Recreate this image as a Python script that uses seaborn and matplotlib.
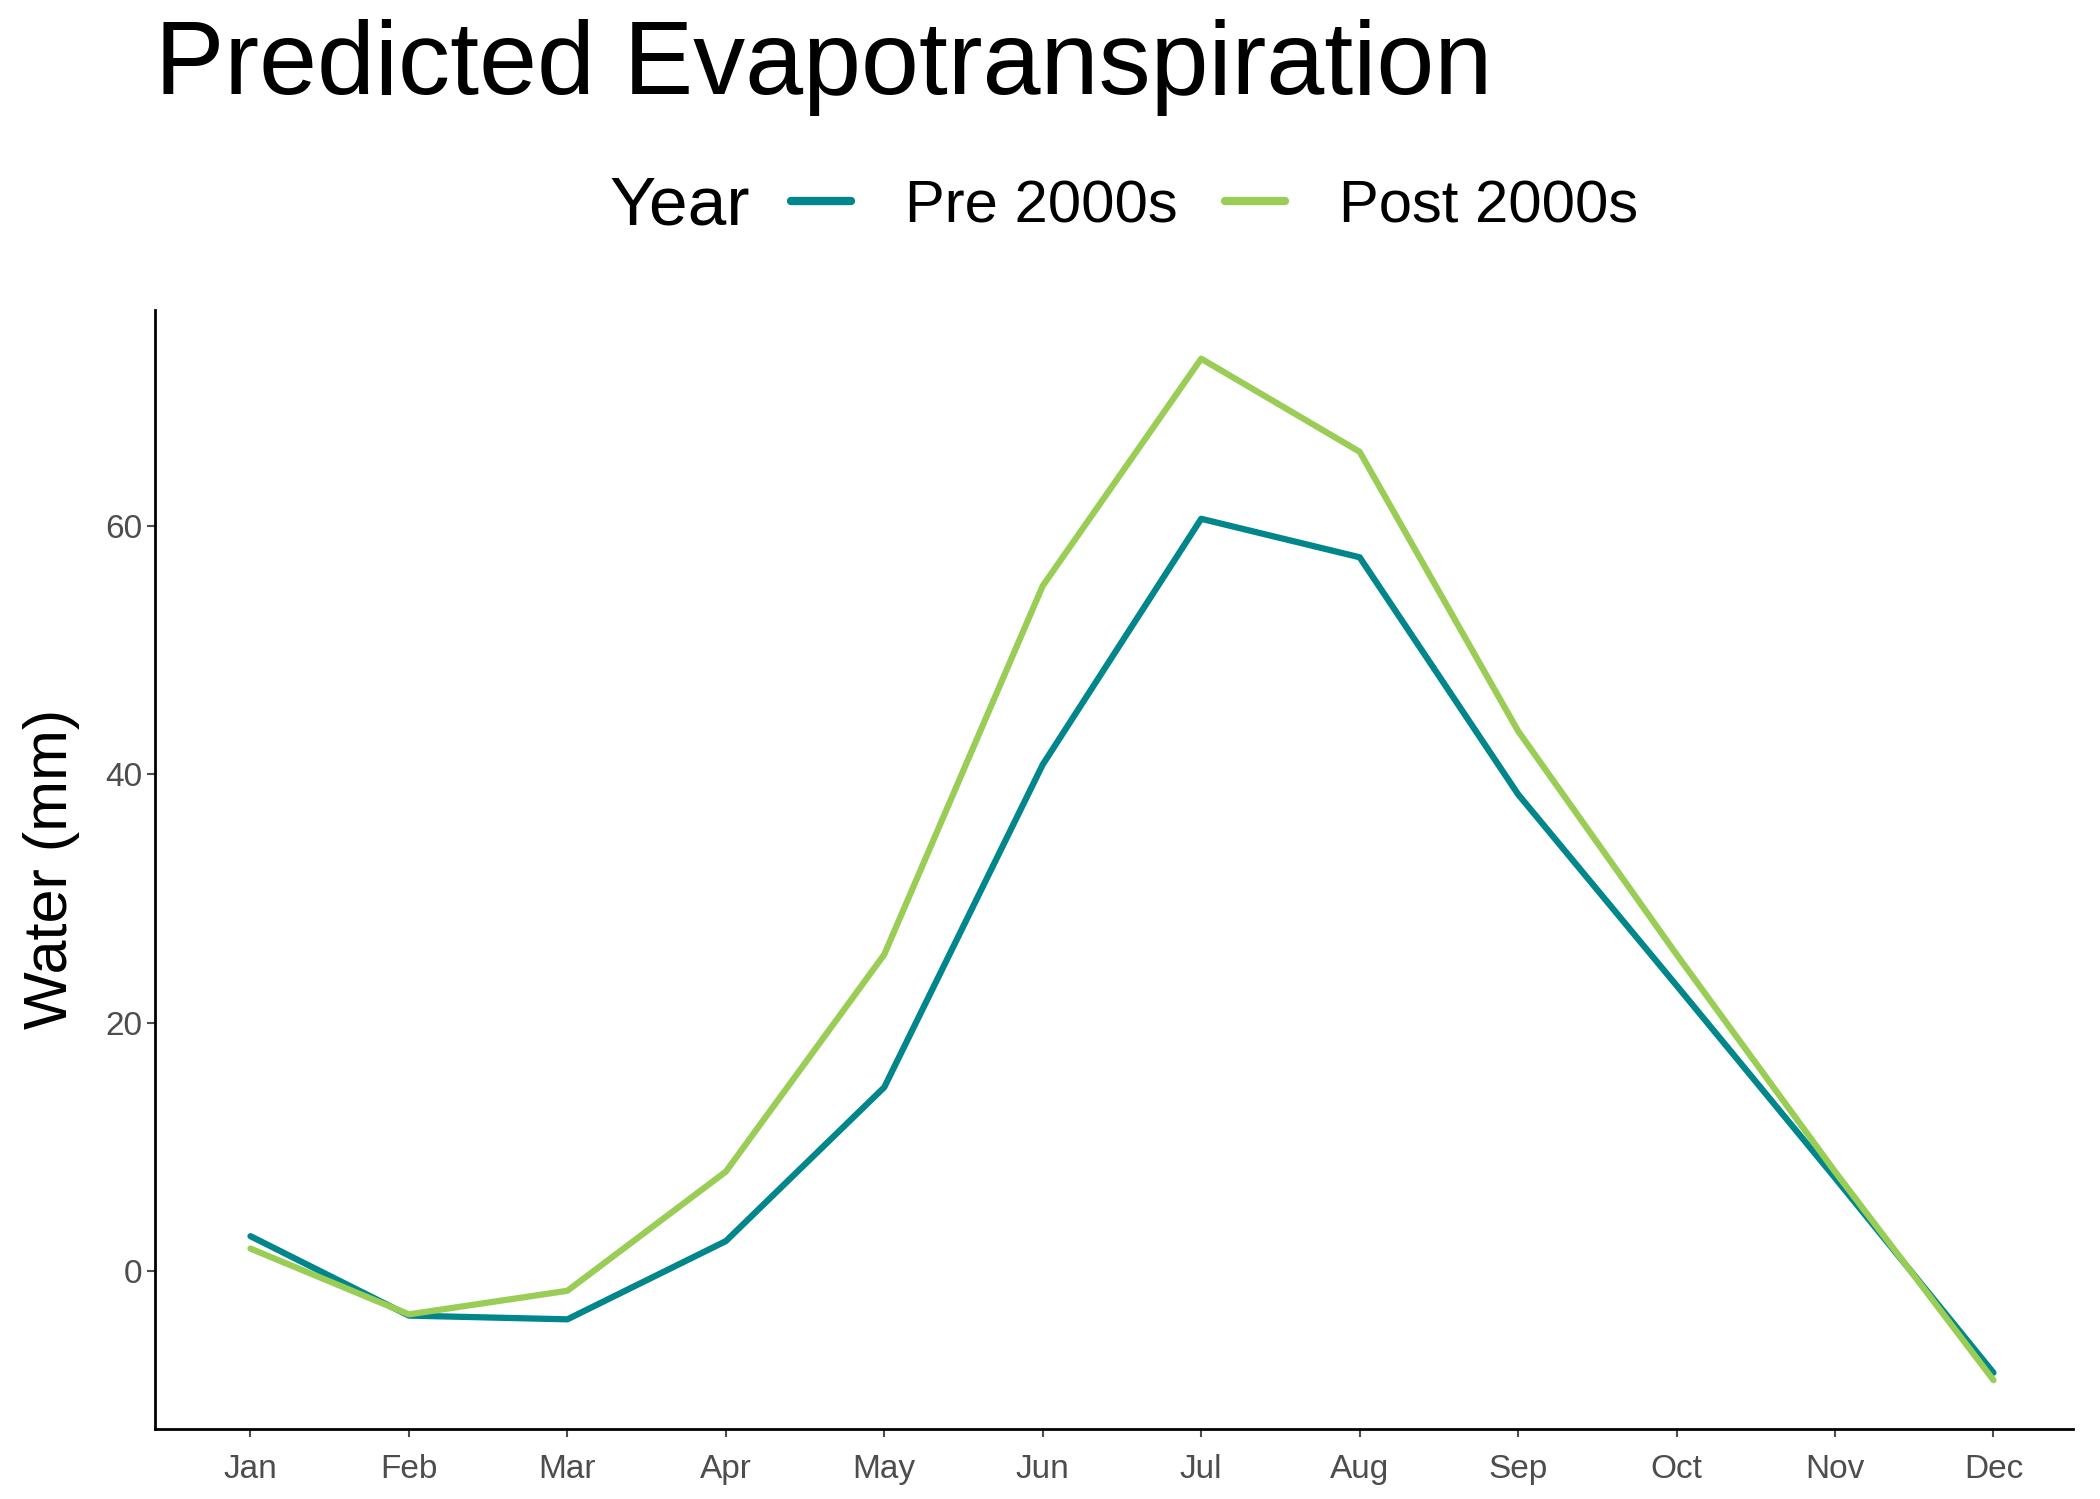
import matplotlib
matplotlib.use("Agg")
import matplotlib.pyplot as plt
import seaborn as sns
import pandas as pd
from matplotlib.lines import Line2D
from matplotlib.offsetbox import HPacker

months = ["Jan", "Feb", "Mar", "Apr", "May", "Jun", "Jul", "Aug", "Sep", "Oct", "Nov", "Dec"]
pre_2000s = [2.8, -3.6, -3.9, 2.4, 14.8, 40.8, 60.6, 57.5, 38.4, 23.0, 7.5, -8.2]
post_2000s = [1.8, -3.5, -1.6, 8.0, 25.5, 55.2, 73.5, 66.0, 43.5, 25.5, 8.0, -8.8]

df = pd.DataFrame({
    "month": list(range(12)) * 2,
    "water": pre_2000s + post_2000s,
    "Year": ["Pre 2000s"] * 12 + ["Post 2000s"] * 12,
})

sns.set_style("ticks")
plt.rcParams["font.family"] = ["Arial", "Liberation Sans", "DejaVu Sans"]
plt.rcParams["text.color"] = "black"

fig = plt.figure(figsize=(21, 14.99), dpi=100)
ax = fig.add_axes([0.074, 0.047, 0.913, 0.746])
sns.lineplot(data=df, x="month", y="water", hue="Year", ax=ax,
             palette={"Pre 2000s": "#00868B", "Post 2000s": "#9ACD55"},
             linewidth=4.5, legend=False)

ax.set_xlim(-0.6, 11.5)
ax.set_ylim(-12.7, 77.4)
ax.set_xticks(range(12))
ax.set_xticklabels(months)
ax.set_yticks([0, 20, 40, 60])
ax.tick_params(labelsize=24, colors="#4d4d4d", length=6, width=1.5)
ax.tick_params(axis="x", pad=12)
ax.set_xlabel("")
ax.set_ylabel("Water (mm)", fontsize=44, color="black", labelpad=18)
for s in ["top", "right"]:
    ax.spines[s].set_visible(False)
for s in ["left", "bottom"]:
    ax.spines[s].set_linewidth(2)
    ax.spines[s].set_color("black")

fig.text(0.074, 0.955, "Predicted Evapotranspiration", fontsize=75, va="center", color="black")

handles = [Line2D([], [], color="#00868B", lw=6), Line2D([], [], color="#9ACD55", lw=6)]
leg = fig.legend(handles, ["Pre 2000s", "Post 2000s"], loc="center",
                 bbox_to_anchor=(0.535, 0.862), ncol=2, frameon=False, fontsize=43,
                 title="Year", handlelength=1.0, columnspacing=0.8, handletextpad=0.9)
leg.get_title().set_fontsize(50)
box = leg._legend_box
box.__class__ = HPacker
box.sep = 30
box.align = "center"

fig.savefig("out.png", dpi=100)
